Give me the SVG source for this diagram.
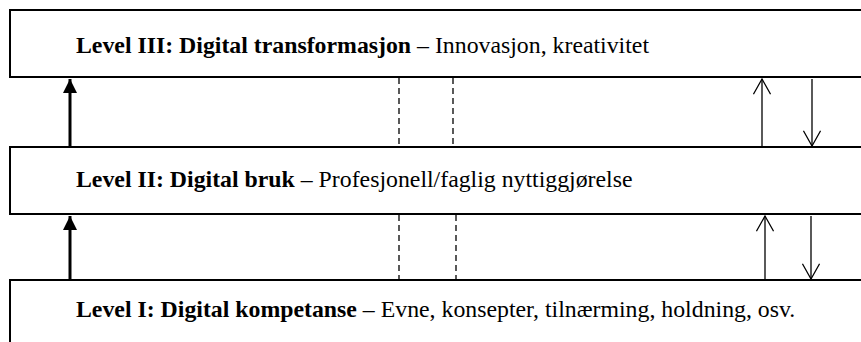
<svg xmlns="http://www.w3.org/2000/svg" width="861" height="342" viewBox="0 0 861 342">
  <style>
    .box { fill: #ffffff; stroke: #000000; stroke-width: 2; }
    .lbl { font-family: "Liberation Serif", "Times New Roman", serif; font-size: 23.8px; fill: #000000; }
    .b { font-weight: bold; }
    .main { stroke: #000000; stroke-width: 3; fill: none; }
    .thin { stroke: #000000; stroke-width: 1.3; fill: none; }
    .dash { stroke: #000000; stroke-width: 1.3; stroke-dasharray: 6 4; fill: none; }
  </style>
  <defs>
    <marker id="solidHead" viewBox="0 0 10 10" refX="10" refY="5" markerWidth="4.8" markerHeight="4.8" markerUnits="strokeWidth" orient="auto">
      <path d="M0,0 L10,5 L0,10 Z" fill="#000000"/>
    </marker>
    <marker id="openHead" viewBox="0 0 20 20" refX="19" refY="10" markerWidth="18" markerHeight="18" markerUnits="userSpaceOnUse" orient="auto">
      <path d="M2,0.5 L19,10 L2,19.5" fill="none" stroke="#000000" stroke-width="1.4"/>
    </marker>
  </defs>

  <g id="level3">
    <rect class="box" x="10" y="10" width="870" height="67"/>
    <text class="lbl" x="76" y="53"><tspan class="b">Level III: Digital transformasjon</tspan> – Innovasjon, kreativitet</text>
  </g>

  <g id="level2">
    <rect class="box" x="10" y="147" width="870" height="67"/>
    <text class="lbl" x="76" y="187"><tspan class="b">Level II: Digital bruk</tspan> – Profesjonell/faglig nyttiggjørelse</text>
  </g>

  <g id="level1">
    <rect class="box" x="10" y="280" width="870" height="80"/>
    <text class="lbl" x="76" y="317"><tspan class="b">Level I: Digital kompetanse</tspan> – Evne, konsepter, tilnærming, holdning, osv.</text>
  </g>

  <g id="connectors">
    <!-- main upward progression -->
    <line class="main" x1="70" y1="146" x2="70" y2="79" marker-end="url(#solidHead)"/>
    <line class="main" x1="70" y1="279" x2="70" y2="216" marker-end="url(#solidHead)"/>
    <!-- dashed guides -->
    <line class="dash" x1="399" y1="78" x2="399" y2="146"/>
    <line class="dash" x1="453" y1="78" x2="453" y2="146"/>
    <line class="dash" x1="399" y1="215" x2="399" y2="279"/>
    <line class="dash" x1="456" y1="215" x2="456" y2="279"/>
    <!-- two-way feedback arrows -->
    <line class="thin" x1="762" y1="146" x2="762" y2="79" marker-end="url(#openHead)"/>
    <line class="thin" x1="812" y1="79" x2="812" y2="146" marker-end="url(#openHead)"/>
    <line class="thin" x1="765" y1="279" x2="765" y2="216" marker-end="url(#openHead)"/>
    <line class="thin" x1="811" y1="216" x2="811" y2="279" marker-end="url(#openHead)"/>
  </g>
</svg>
